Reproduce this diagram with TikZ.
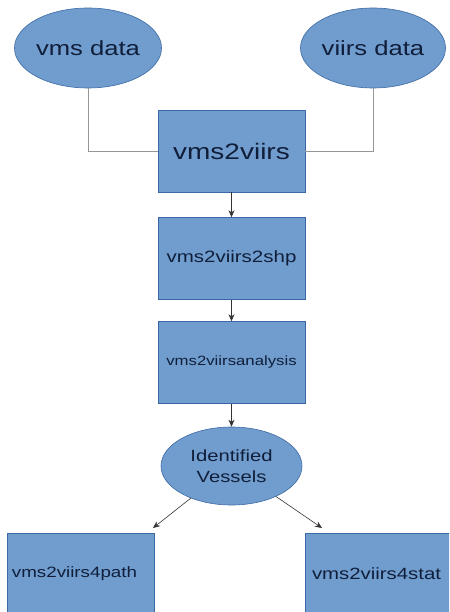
\documentclass[tikz,border=0pt]{standalone}
\usepackage{fontspec}
\usetikzlibrary{shapes.geometric,arrows.meta}
\newfontfamily\labfont[FakeStretch=1.25]{Liberation Sans}
\definecolor{boxfill}{RGB}{112,157,206}
\definecolor{boxline}{RGB}{60,105,165}
\definecolor{labtext}{RGB}{16,30,58}
\definecolor{wire}{RGB}{150,150,150}
\tikzset{
  procbox/.style={rectangle, fill=boxfill, draw=boxline, line width=0.6pt,
    minimum width=147pt, minimum height=82pt, inner sep=0pt,
    text=labtext, font=\labfont},
  dataell/.style={ellipse, fill=boxfill, draw=boxline, line width=0.6pt,
    inner sep=0pt, text=labtext, font=\labfont, align=center},
  feed/.style={draw=wire, line width=0.6pt},
  flow/.style={draw=black!80, line width=0.6pt,
    -{Stealth[length=7pt,width=6pt]}}
}
\begin{document}
\begin{tikzpicture}[x=1pt,y=-1pt]
  \useasboundingbox (0,0) rectangle (449,612);
  \clip (0,0) rectangle (449,612);

  % input data sets
  \node[dataell, minimum width=142pt, minimum height=80pt,
        font=\labfont\fontsize{20.5}{22}\selectfont] (vms) at (88,48) {vms data};
  \node[dataell, minimum width=142pt, minimum height=80pt,
        font=\labfont\fontsize{20.5}{22}\selectfont] (viirs) at (373,48) {viirs data};

  % processing chain
  \node[procbox, font=\labfont\fontsize{22.4}{24}\selectfont] (merge) at (231.5,151) {vms2viirs};
  \node[procbox, font=\labfont\fontsize{16.4}{18}\selectfont] (shp) at (231.5,258.5) {vms2viirs2shp};
  \node[procbox, font=\labfont\fontsize{13.4}{15}\selectfont] (ana) at (231.5,362.5) {vms2viirsanalysis};
  \node[dataell, minimum width=141pt, minimum height=78pt,
        font=\labfont\fontsize{16.2}{21}\selectfont] (iv) at (231.5,466) {Identified\\Vessels};

  % outputs
  \node[procbox, font=\labfont\fontsize{15}{17}\selectfont, text width=138pt, align=left]
        (path) at (81,574) {vms2viirs4path};
  \node[procbox, font=\labfont\fontsize{16.3}{18}\selectfont, text width=134pt, align=left]
        (stat) at (379,574) {vms2viirs4stat};

  \coordinate (pathtip) at (153,528);
  \coordinate (stattip) at (322,528);

  % connectors
  \draw[feed] (vms.south) |- (merge.west);
  \draw[feed] (viirs.south) |- (merge.east);
  \draw[flow] (merge.south) -- (shp.north);
  \draw[flow] (shp.south) -- (ana.north);
  \draw[flow] (ana.south) -- (iv.north);
  \draw[flow] (iv) -- (pathtip);
  \draw[flow] (iv) -- (stattip);
\end{tikzpicture}
\end{document}
